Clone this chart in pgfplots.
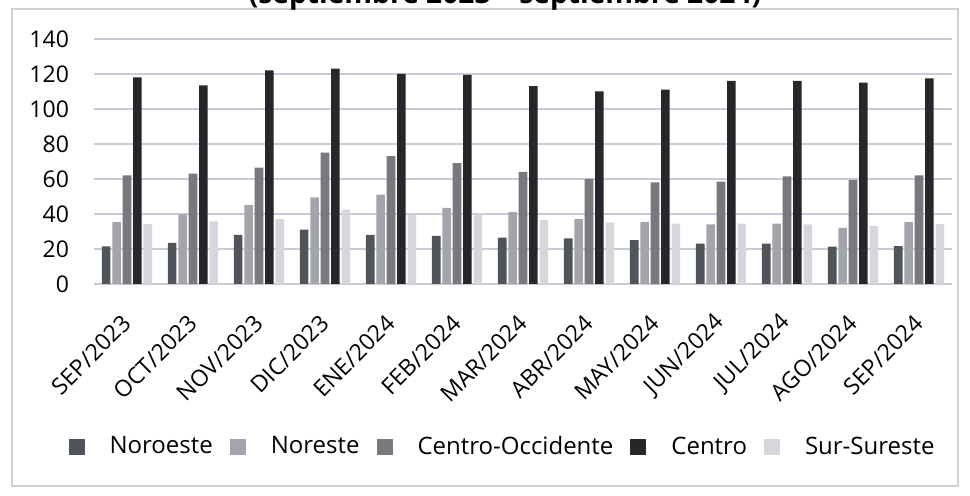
\documentclass[border=0pt]{standalone}
\usepackage{pgfplots}
\pgfplotsset{compat=1.18}
\usepackage{fontspec}
\setmainfont{Open Sans}
\definecolor{cNO}{HTML}{50555B}
\definecolor{cNE}{HTML}{A4A4AC}
\definecolor{cCO}{HTML}{78787F}
\definecolor{cCE}{HTML}{26262B}
\definecolor{cSS}{HTML}{D6D6DD}
\definecolor{gridc}{HTML}{CACAD8}
\definecolor{framec}{HTML}{CFCFD2}

\pgfplotstableread{
x NO NE CO CE SS
0 21.5 35.4 62.0 118.0 34.2
1 23.5 39.8 63.0 113.5 35.8
2 28.0 45.0 66.5 122.0 37.0
3 31.0 49.5 75.0 123.0 42.5
4 28.0 51.0 73.0 120.0 39.4
5 27.5 43.5 69.0 119.5 40.0
6 26.5 41.0 64.0 113.0 36.7
7 26.0 37.0 60.0 110.0 35.0
8 25.0 35.5 58.0 111.0 34.5
9 23.0 34.0 58.5 116.0 34.5
10 23.0 34.5 61.5 116.0 34.0
11 21.3 32.0 59.5 115.0 33.0
12 21.7 35.4 62.0 117.5 34.2
}\datatable

\pgfplotsset{sqleg/.style={legend image code/.code={\fill[##1] (0pt,-3.8pt) rectangle (8pt,3.8pt);}}}

\begin{document}
\begin{tikzpicture}
\draw[color=framec, line width=0.6pt] (6pt,5pt) rectangle (479pt,243.5pt);
\node[font=\bfseries\fontsize{14.1}{16}\selectfont, anchor=base] at (252.5pt,246pt) {(septiembre 2023 – septiembre 2024)};
\begin{axis}[
  at={(47pt,106pt)}, anchor=south west,
  scale only axis, width=429pt, height=122.5pt,
  xmin=-0.5, xmax=12.5, ymin=0, ymax=140,
  ybar=0.9pt, bar width=4.3pt,
  xtick={0,...,12},
  xticklabels={SEP/2023,OCT/2023,NOV/2023,DIC/2023,ENE/2024,FEB/2024,MAR/2024,ABR/2024,MAY/2024,JUN/2024,JUL/2024,AGO/2024,SEP/2024},
  ytick={0,20,...,140},
  axis line style={draw=none},
  major tick length=0pt,
  ymajorgrids, grid style={color=gridc, line width=0.6pt},
  tick label style={font=\fontsize{11.5}{13}\selectfont, text=black},
  /pgf/number format/assume math mode=true,
  yticklabel style={xshift=-9pt},
  xticklabel style={xshift=0pt, yshift=-17.5pt, rotate=45, anchor=east, inner sep=0pt},
  legend columns=5,
  legend style={at={(0.475,-0.665)}, anchor=center, draw=none, fill=none,
    font=\fontsize{12}{14}\selectfont,
    nodes={inner sep=0pt},
    /tikz/every odd column/.style={column sep=12.5pt},
    /tikz/every even column/.style={column sep=8.5pt}},
]
\addplot[fill=cNO, draw=none, sqleg] table[x=x, y=NO] {\datatable};
\addlegendentry{Noroeste}
\addplot[fill=cNE, draw=none, sqleg] table[x=x, y=NE] {\datatable};
\addlegendentry{Noreste}
\addplot[fill=cCO, draw=none, sqleg] table[x=x, y=CO] {\datatable};
\addlegendentry{Centro-Occidente}
\addplot[fill=cCE, draw=none, sqleg] table[x=x, y=CE] {\datatable};
\addlegendentry{Centro}
\addplot[fill=cSS, draw=none, sqleg] table[x=x, y=SS] {\datatable};
\addlegendentry{Sur-Sureste}
\end{axis}
\pgfresetboundingbox
\path[use as bounding box] (0pt,0pt) rectangle (485pt,248pt);
\end{tikzpicture}
\end{document}
